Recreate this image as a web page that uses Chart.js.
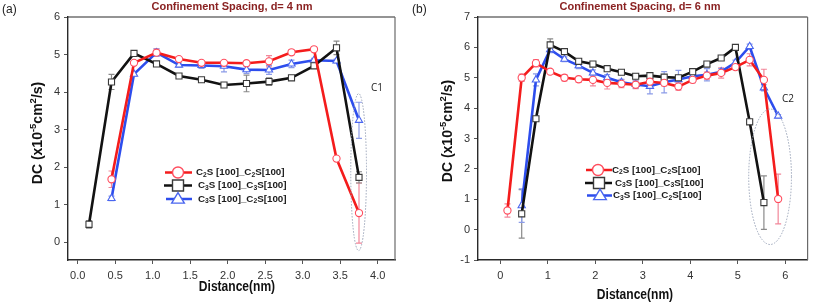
<!DOCTYPE html>
<html><head><meta charset="utf-8">
<script src="https://cdn.jsdelivr.net/npm/chart.js@4/dist/chart.umd.min.js"></script>
<style>
html,body{margin:0;padding:0;background:#fff;width:813px;height:306px;overflow:hidden}
.wrap{position:absolute;top:0;height:306px}
</style></head><body>
<div class="wrap" style="left:0;width:410px"><canvas id="ca" width="410" height="306"></canvas></div>
<div class="wrap" style="left:410px;width:403px"><canvas id="cb" width="403" height="306"></canvas></div>
<script>
// ---------- data: panel (a) d = 4 nm ----------
const distA = [0.15,0.45,0.75,1.05,1.35,1.65,1.95,2.25,2.55,2.85,3.15,3.45,3.75];
const a_C2S_C2S     = [null,1.68,4.78,5.05,4.88,4.78,4.78,4.77,4.82,5.06,5.14,2.23,0.78];
const a_C2S_C2S_err = [null,0.22,0.05,0.10,0.05,0.05,0.05,0.05,0.15,0.06,0.04,0.04,0.80];
const a_C3S_C3S     = [0.48,4.27,5.03,4.75,4.43,4.33,4.19,4.23,4.28,4.38,4.70,5.18,1.73];
const a_C3S_C3S_err = [0.10,0.20,0.04,0.04,0.04,0.04,0.05,0.22,0.10,0.05,0.05,0.18,0.15];
const a_C3S_C2S     = [null,1.17,4.48,5.05,4.72,4.71,4.69,4.60,4.59,4.75,4.85,4.83,3.25];
const a_C3S_C2S_err = [null,0.06,0.05,0.10,0.05,0.08,0.15,0.10,0.12,0.10,0.05,0.05,0.48];
const xTicksA = [0,0.5,1.0,1.5,2.0,2.5,3.0,3.5,4.0];
const yTicksA = [0,1,2,3,4,5,6];

// ---------- data: panel (b) d = 6 nm ----------
const distB = [0.15,0.45,0.75,1.05,1.35,1.65,1.95,2.25,2.55,2.85,3.15,3.45,3.75,4.05,4.35,4.65,4.95,5.25,5.55,5.85];
const b_C2S_C2S     = [0.63,5.00,5.48,5.20,5.00,4.95,4.93,4.83,4.80,4.77,4.87,4.83,4.71,4.93,5.07,5.16,5.35,5.59,4.93,1.01];
const b_C2S_C2S_err = [0.22,0.12,0.12,0.05,0.10,0.10,0.20,0.20,0.13,0.13,0.10,0.10,0.12,0.10,0.12,0.17,0.08,0.20,0.35,0.82];
const b_C3S_C3S     = [null,0.52,3.65,6.08,5.86,5.54,5.45,5.30,5.18,5.05,5.07,5.02,5.00,5.20,5.45,5.65,6.00,3.55,0.89,null];
const b_C3S_C3S_err = [null,0.80,0.05,0.20,0.05,0.05,0.05,0.05,0.05,0.08,0.05,0.05,0.05,0.05,0.05,0.05,0.05,0.05,0.88,null];
const b_C3S_C2S     = [null,0.79,4.93,5.93,5.61,5.40,5.16,5.00,4.85,4.78,4.72,4.85,4.94,5.05,5.10,5.20,5.50,6.03,4.67,3.74];
const b_C3S_C2S_err = [null,0.55,0.20,0.10,0.08,0.10,0.10,0.10,0.10,0.12,0.25,0.35,0.30,0.20,0.20,0.10,0.08,0.08,0.10,0.05];
const xTicksB = [0,1,2,3,4,5,6];
const yTicksB = [-1,0,1,2,3,4,5,6,7];

// series labels as text runs: [text, 0 normal | -1 subscript | 1 superscript]
const seriesLabels = [
  [['C',0],['2',-1],['S [100]_C',0],['2',-1],['S[100]',0]],
  [['C',0],['3',-1],['S [100]_C',0],['3',-1],['S[100]',0]],
  [['C',0],['3',-1],['S [100]_C',0],['2',-1],['S[100]',0]]
];
const seriesNames = ['C2S [100]_C2S[100]','C3S [100]_C3S[100]','C3S [100]_C2S[100]'];
const titleA = 'Confinement Spacing, d= 4 nm';
const titleB = 'Confinement Spacing, d= 6 nm';
const yTitle = [['DC (x10',0],['-5',1],['cm',0],['2',1],['/s)',0]];
const xTitle = 'Distance(nm)';

// ---------- styles ----------
const COL  = ['#f41c1c','#121212','#2d4ded'];
const ECOL = ['#f2879a','#8a8a8a','#8c9ce8'];
const MCOL = ['#ff4d5e','#3a3a3a','#4a66f0'];
const STYLE = ['circle','rect','triangle'];
const RAD = [3.6,4.3,4.2];
const FONT = '"Liberation Sans", Arial, sans-serif';

function pts(xs, ys){ return xs.map((x,i)=>({x:x, y:ys[i]})); }

function drawRich(ctx, runs, x, y, size, weight, align){
  const small = Math.round(size*0.68*10)/10;
  const fnt = s => weight+' '+s+'px '+FONT;
  let w = 0;
  runs.forEach(r=>{ ctx.font = fnt(r[1]?small:size); w += ctx.measureText(r[0]).width; });
  let cx = align==='center' ? x - w/2 : x;
  ctx.textAlign='left'; ctx.textBaseline='middle';
  runs.forEach(r=>{
    ctx.font = fnt(r[1]?small:size);
    const dy = r[1]===1 ? -size*0.32 : (r[1]===-1 ? size*0.25 : 0);
    ctx.fillText(r[0], cx, y+dy);
    cx += ctx.measureText(r[0]).width;
  });
}

function drawMarker(ctx, style, x, y, r, stroke, lw){
  ctx.save();
  ctx.beginPath();
  if(style==='circle'){ ctx.arc(x,y,r,0,Math.PI*2); }
  else if(style==='rect'){ ctx.rect(x-r,y-r,2*r,2*r); }
  else { ctx.moveTo(x,y-r*1.15); ctx.lineTo(x+r*1.15,y+r*0.75); ctx.lineTo(x-r*1.15,y+r*0.75); ctx.closePath(); }
  ctx.fillStyle='#fff'; ctx.fill();
  ctx.lineWidth=lw; ctx.strokeStyle=stroke; ctx.stroke();
  ctx.restore();
}

const decor = {
  id:'decor',
  beforeDatasetsDraw(chart){
    const o = chart.options.plugins.decor, ctx = chart.ctx;
    const xs = chart.scales.x, ys = chart.scales.y;
    o.errs.forEach((errArr, di)=>{
      const data = chart.data.datasets[di].data;
      ctx.save(); ctx.strokeStyle = ECOL[di]; ctx.lineWidth = 1.2;
      data.forEach((p,j)=>{
        const e = errArr[j];
        if(p.y===null || e===null || e===undefined) return;
        const px = xs.getPixelForValue(p.x);
        const y1 = ys.getPixelForValue(p.y+e), y2 = ys.getPixelForValue(p.y-e);
        ctx.beginPath();
        ctx.moveTo(px,y1); ctx.lineTo(px,y2);
        ctx.moveTo(px-3,y1); ctx.lineTo(px+3,y1);
        ctx.moveTo(px-3,y2); ctx.lineTo(px+3,y2);
        ctx.stroke();
      });
      ctx.restore();
    });
  },
  afterDraw(chart){
    const o = chart.options.plugins.decor, ctx = chart.ctx, a = chart.chartArea;
    const xs = chart.scales.x, ys = chart.scales.y;
    ctx.save();
    // frame top/right
    ctx.lineWidth = 1.2;
    ctx.strokeStyle = '#2a2a2a';
    ctx.beginPath(); ctx.moveTo(a.left,a.top); ctx.lineTo(a.right,a.top); ctx.stroke();
    ctx.strokeStyle = '#6a6a6a';
    ctx.beginPath(); ctx.moveTo(a.right,a.top); ctx.lineTo(a.right,a.bottom); ctx.stroke();
    // dotted ellipse
    const ex0 = xs.getPixelForValue(o.ell[0]), ex1 = xs.getPixelForValue(o.ell[1]);
    const ey0 = ys.getPixelForValue(o.ell[3]), ey1 = ys.getPixelForValue(o.ell[2]);
    ctx.beginPath();
    ctx.ellipse((ex0+ex1)/2,(ey0+ey1)/2,(ex1-ex0)/2,(ey1-ey0)/2,0,0,Math.PI*2);
    ctx.setLineDash([1.5,1.5]); ctx.strokeStyle='#9aa4b8'; ctx.lineWidth=1; ctx.stroke();
    ctx.setLineDash([]);
    ctx.fillStyle='#222'; ctx.font='10px "Open Sans", '+FONT; ctx.textAlign='left'; ctx.textBaseline='middle';
    ctx.fillText(o.ellLabel, xs.getPixelForValue(o.ellLabelPos[0]), ys.getPixelForValue(o.ellLabelPos[1]));
    // legend
    const L = o.legend;
    seriesLabels.forEach((lab,i)=>{
      const y = L.y[i];
      ctx.strokeStyle = COL[i]; ctx.lineWidth = 2.5;
      ctx.beginPath(); ctx.moveTo(L.x0[i],y); ctx.lineTo(L.x1[i],y); ctx.stroke();
      drawMarker(ctx, STYLE[i], L.mx[i], y, 5.5, MCOL[i], 1.4);
      ctx.fillStyle='#1a1a1a';
      drawRich(ctx, lab, L.tx[i], y, 9.8, 'bold', 'left');
    });
    // titles
    ctx.fillStyle='#8a2222'; ctx.font='bold 11px '+FONT; ctx.textAlign='center'; ctx.textBaseline='middle';
    ctx.fillText(o.title, o.titleX, 7);
    ctx.fillStyle='#222'; ctx.font='12px '+FONT; ctx.textAlign='left';
    ctx.fillText(o.panel, o.panelX, 10);
    ctx.fillStyle='#111'; ctx.font='bold 14px '+FONT; ctx.textAlign='center';
    ctx.save(); ctx.translate(o.xTitleX, o.xTitleY); ctx.scale(0.86,1);
    ctx.fillText(xTitle, 0, 0); ctx.restore();
    ctx.save(); ctx.translate(38, o.yTitleY); ctx.rotate(-Math.PI/2);
    drawRich(ctx, yTitle, 0, 0, 14, 'bold', 'center'); ctx.restore();
    ctx.restore();
  }
};

function makeChart(id, dist, series, errs, xmin, xmax, ymin, ymax, xt, yt, xfmt, padRight, extra){
  const datasets = series.map((s,i)=>({
    label: seriesNames[i], data: pts(dist, s),
    borderColor: COL[i], borderWidth: 2.6,
    pointStyle: STYLE[i], pointRadius: RAD[i], pointHoverRadius: RAD[i],
    pointBackgroundColor:'#fff', pointBorderColor: MCOL[i], pointBorderWidth: 1.1,
    spanGaps:false, tension:0
  }));
  const tickFont = {family: FONT, size: 11};
  return new Chart(document.getElementById(id), {
    type:'line',
    data:{datasets},
    options:{
      responsive:false, animation:false, events:[],
      layout:{padding:{top:17,right:padRight,left:0,bottom:0}},
      plugins:{legend:{display:false}, tooltip:{enabled:false}, title:{display:false},
        decor: Object.assign({errs}, extra)},
      scales:{
        x:{type:'linear', min:xmin, max:xmax,
          afterBuildTicks:s=>{ s.ticks = xt.map(v=>({value:v})); },
          afterFit:s=>{ s.height = 46; },
          ticks:{callback:v=>xfmt(v), font:tickFont, color:'#333', padding:5, maxRotation:0, autoSkip:false},
          grid:{drawOnChartArea:false, drawTicks:true, tickLength:4, color:'#555', lineWidth:1},
          border:{display:true, color:'#2a2a2a', width:1.4}},
        y:{type:'linear', min:ymin, max:ymax,
          afterBuildTicks:s=>{ s.ticks = yt.map(v=>({value:v})); },
          afterFit:s=>{ s.width = 68; },
          ticks:{font:tickFont, color:'#333', padding:4, autoSkip:false},
          grid:{drawOnChartArea:false, drawTicks:true, tickLength:4, color:'#555', lineWidth:1},
          border:{display:true, color:'#2a2a2a', width:1.4}}
      }
    },
    plugins:[decor]
  });
}

makeChart('ca', distA, [a_C2S_C2S,a_C3S_C3S,a_C3S_C2S], [a_C2S_C2S_err,a_C3S_C3S_err,a_C3S_C2S_err],
  -0.13, 4.23, -0.47, 6, xTicksA, yTicksA, v=>v.toFixed(1), 15,
  {ell:[3.64,3.85,-0.22,3.96], ellLabel:'C1', ellLabelPos:[3.91,4.1],
   legend:{y:[172.5,185.5,199], x0:[165,164,166], x1:[192,192,192], mx:[178,178,178], tx:[196,198,198]},
   title:titleA, titleX:232, panel:'(a)', panelX:2, xTitleX:237, xTitleY:287, yTitleY:133});

makeChart('cb', distB, [b_C2S_C2S,b_C3S_C3S,b_C3S_C2S], [b_C2S_C2S_err,b_C3S_C3S_err,b_C3S_C2S_err],
  -0.47, 6.47, -1, 7, xTicksB, yTicksB, v=>String(v), 4,
  {ell:[5.23,6.13,-0.49,3.97], ellLabel:'C2', ellLabelPos:[5.93,4.3],
   legend:{y:[170,183,195.5], x0:[176,175,177], x1:[202,202,202], mx:[188,189,190], tx:[202,205,203]},
   title:titleB, titleX:230, panel:'(b)', panelX:2, xTitleX:225, xTitleY:295, yTitleY:131});
</script>
</body></html>
